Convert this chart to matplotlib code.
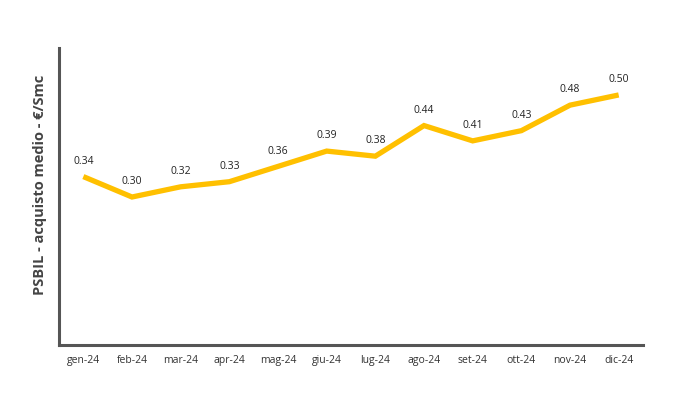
import matplotlib
matplotlib.use("Agg")
import matplotlib.pyplot as plt

months = ["gen-24", "feb-24", "mar-24", "apr-24", "mag-24", "giu-24",
          "lug-24", "ago-24", "set-24", "ott-24", "nov-24", "dic-24"]
values = [0.34, 0.30, 0.32, 0.33, 0.36, 0.39, 0.38, 0.44, 0.41, 0.43, 0.48, 0.50]
ylabel = "PSBIL - acquisto medio - €/Smc"

plt.rcParams["font.family"] = ["Open Sans", "DejaVu Sans"]

fig = plt.figure(figsize=(7, 4), dpi=100)
ax = fig.add_axes([0.0843, 0.1375, 0.8343, 0.7425])

x = list(range(len(months)))
ax.plot(x, values, color="#FFC000", linewidth=3.8, solid_joinstyle="miter",
        solid_capstyle="butt", zorder=3)
for xi, v in zip(x, values):
    ax.annotate(f"{v:.2f}", (xi, v), xytext=(0, 7), textcoords="offset points",
                ha="center", va="bottom", fontsize=7.5, color="#222222")

ax.set_xlim(-0.5, 11.5)
ax.set_ylim(0.01, 0.592)
ax.set_xticks(x)
ax.set_xticklabels(months, fontsize=7.5, color="#333333")
ax.tick_params(axis="x", length=0, pad=7)
ax.set_yticks([])
ax.set_ylabel(ylabel, fontsize=10.5, fontweight="bold", color="#444444")
ax.yaxis.set_label_coords(-0.021, 0.54)

for side in ["top", "right"]:
    ax.spines[side].set_visible(False)
for side in ["left", "bottom"]:
    ax.spines[side].set_color("#555555")
    ax.spines[side].set_linewidth(2.2)

fig.savefig("out.png", dpi=100)
